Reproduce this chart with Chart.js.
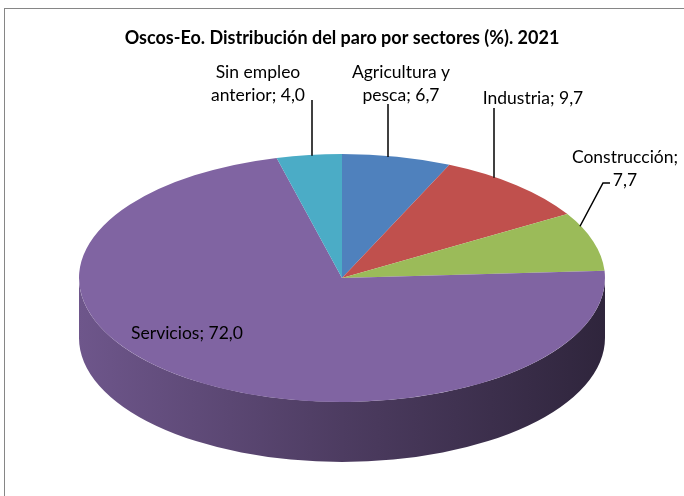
<!DOCTYPE html>
<html>
<head>
<meta charset="utf-8">
<script src="https://cdn.jsdelivr.net/npm/chart.js@4/dist/chart.umd.min.js"></script>
<style>
  html, body { margin: 0; padding: 0; background: #fff; }
  #wrap { width: 684px; height: 496px; }
</style>
</head>
<body>
<div id="wrap"><canvas id="chart"></canvas></div>
<script>
const sectors = ["Agricultura y pesca", "Industria", "Construcción", "Servicios", "Sin empleo anterior"];
const shares = [6.7, 9.7, 7.7, 72.0, 4.0];
const colors = ["#4F81BD", "#C0504D", "#9BBB59", "#8064A2", "#4BACC6"];
const titleText = "Oscos-Eo. Distribución del paro por sectores (%). 2021";

// where each label wraps
const wrapAfter = ["Agricultura y", null, "Construcción;", null, "Sin empleo"];

// ellipse of the top face, and the thickness of the disc
const GEO = { cx: 342, cy: 278, rx: 263, ry: 124, depth: 60 };
const FONT = "Lato, 'Open Sans', sans-serif";

// label centres; leaders hit the rim at lead.ax, then run to (lead.x, lead.y)
const labelStyle = [
    { x: 401, y: 72, lead: { ax: 388, y: 104 } },
    { x: 533, y: 98, lead: { ax: 494, y: 108 } },
    { x: 625, y: 157, lead: { ax: 580, x: 603, y: 183, tail: 610 } },
    { x: 187, y: 333 },
    { x: 258, y: 72, lead: { ax: 312, y: 100 } },
];

function shade(hex, f) {
    const n = parseInt(hex.slice(1), 16);
    const r = Math.round(((n >> 16) & 255) * f);
    const g = Math.round(((n >> 8) & 255) * f);
    const b = Math.round((n & 255) * f);
    return `rgb(${r},${g},${b})`;
}

function labelLines(i) {
    const txt = sectors[i] + "; " + shares[i].toFixed(1).replace(".", ",");
    const brk = wrapAfter[i];
    if (!brk) return [txt];
    return [brk, txt.slice(brk.length).trim()];
}

const pie3d = {
    id: "pie3d",
    beforeDraw(chart) {
        const ctx = chart.ctx;
        ctx.save();
        ctx.strokeStyle = "#868686";
        ctx.lineWidth = 1;
        ctx.strokeRect(4.5, 8.5, 720, 600);
        ctx.restore();
    },
    beforeDatasetDraw(chart) {
        const ctx = chart.ctx;
        const arcs = chart.getDatasetMeta(0).data;
        const { cx, cy, rx, ry, depth } = GEO;
        // side wall: only the front half (screen angle 0..PI) shows
        arcs.forEach((arc, i) => {
            const segs = [];
            for (const base of [0, 2 * Math.PI, -2 * Math.PI]) {
                const a1 = Math.max(arc.startAngle, base);
                const a2 = Math.min(arc.endAngle, base + Math.PI);
                if (a2 > a1) segs.push([a1, a2]);
            }
            segs.forEach(([a1, a2]) => {
                const grad = ctx.createLinearGradient(cx - rx, 0, cx + rx, 0);
                grad.addColorStop(0, shade(colors[i], 0.86));
                grad.addColorStop(0.5, shade(colors[i], 0.6));
                grad.addColorStop(1, shade(colors[i], 0.37));
                ctx.beginPath();
                ctx.ellipse(cx, cy, rx, ry, 0, a1, a2, false);
                ctx.ellipse(cx, cy + depth, rx, ry, 0, a2, a1, true);
                ctx.closePath();
                ctx.fillStyle = grad;
                ctx.fill();
            });
        });
        // squash the library's pie onto the top ellipse
        const a = arcs[0];
        ctx.save();
        ctx.translate(cx, cy);
        ctx.scale(rx / a.outerRadius, ry / a.outerRadius);
        ctx.translate(-a.x, -a.y);
    },
    afterDatasetDraw(chart) {
        const ctx = chart.ctx;
        ctx.restore();
        const arcs = chart.getDatasetMeta(0).data;
        const { cx, cy, rx, ry } = GEO;
        ctx.save();
        ctx.font = "17.5px " + FONT;
        ctx.fillStyle = "#000";
        ctx.strokeStyle = "#000";
        ctx.lineWidth = 1.5;
        ctx.textAlign = "center";
        ctx.textBaseline = "middle";
        arcs.forEach((arc, i) => {
            const st = labelStyle[i];
            if (st.lead) {
                const dx = st.lead.ax - cx;
                const ex = st.lead.ax;
                const ey = cy - ry * Math.sqrt(Math.max(0, 1 - (dx / rx) ** 2)) + 1;
                const lx = st.lead.x !== undefined ? st.lead.x : ex;
                ctx.beginPath();
                ctx.moveTo(ex, ey);
                ctx.lineTo(lx, st.lead.y);
                if (st.lead.tail) ctx.lineTo(st.lead.tail, st.lead.y);
                ctx.stroke();
            }
            labelLines(i).forEach((t, k) => ctx.fillText(t, st.x, st.y + k * 23));
        });
        ctx.restore();
    },
};

new Chart(document.getElementById("chart"), {
    type: "pie",
    data: {
        labels: sectors,
        datasets: [{
            data: shares,
            backgroundColor: colors,
            borderWidth: 0,
            clip: false,
        }],
    },
    options: {
        responsive: true,
        maintainAspectRatio: false,
        animation: false,
        rotation: 0,
        layout: { padding: { top: 0, left: 60, right: 60, bottom: 20 } },
        plugins: {
            legend: { display: false },
            tooltip: { enabled: false },
            title: {
                display: true,
                text: titleText,
                color: "#000",
                font: { family: FONT, size: 18, weight: "bold" },
                padding: { top: 27, bottom: 10 },
            },
        },
    },
    plugins: [pie3d],
});
</script>
</body>
</html>
